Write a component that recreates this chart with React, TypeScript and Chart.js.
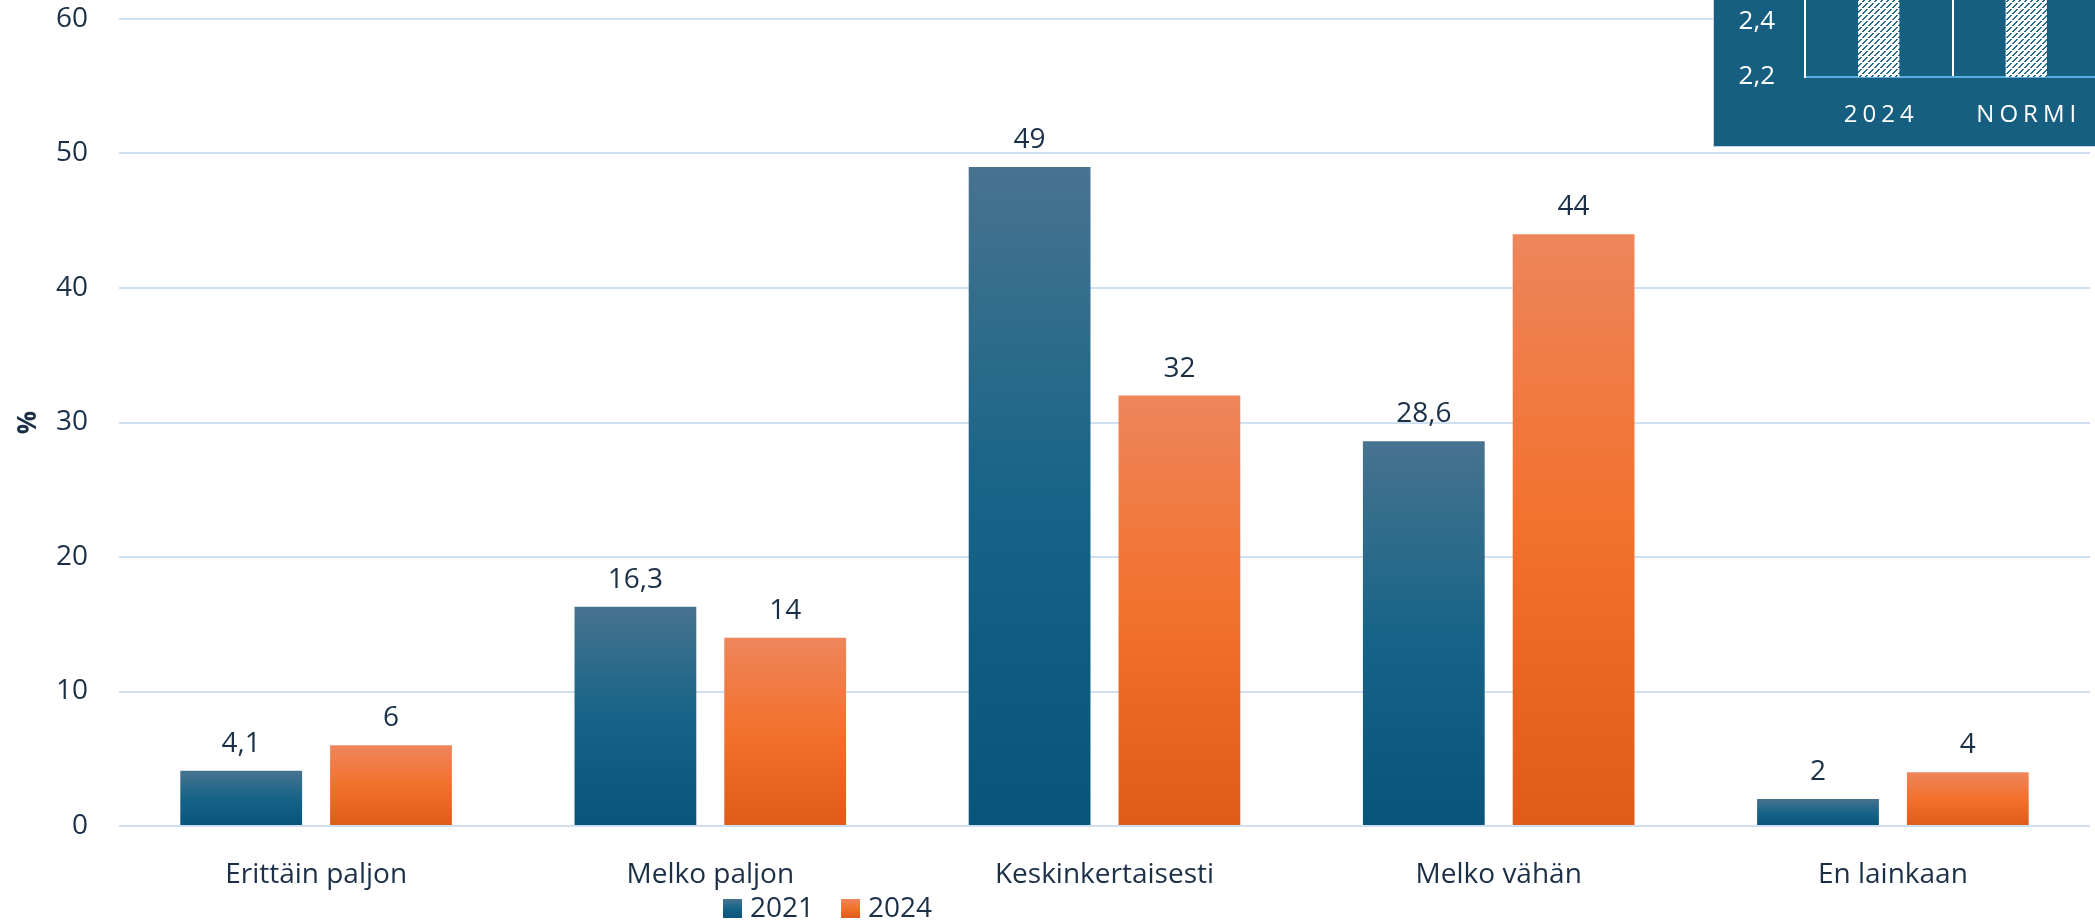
import React, { useEffect, useRef } from 'react';
import { Chart, registerables } from 'chart.js';

Chart.register(...registerables);

// ---- data ----
const categories = ['Erittäin paljon', 'Melko paljon', 'Keskinkertaisesti', 'Melko vähän', 'En lainkaan'];
const seriesLabels = ['2021', '2024'];
const values2021 = [4.1, 16.3, 49, 28.6, 2];
const values2024 = [6, 14, 32, 44, 4];
const yMin = 0;
const yMax = 60;
const yStep = 10;

const insetCategories = ['2024', 'NORMI'];
const insetValues = [2.6, 2.6];
const insetTicks = [2.2, 2.4];
const insetMin = 2.2;
const insetMax = 2.48;

// ---- styles ----
const FONT = "'Open Sans', 'Noto Sans', 'DejaVu Sans', sans-serif";
const TEXT = '#1b2f47';
const GRID = '#cfe0f2';
const STOPS: Array<Array<[number, string]>> = [
  [[0, '#47738f'], [0.5, '#176488'], [1, '#09547a']],
  [[0, '#ee855b'], [0.5, '#f2712c'], [1, '#df5b18']],
];
const INSET_BG = '#175f80';

const fmt = (v: number) => String(v).replace('.', ',');

function barGradient(stops: Array<[number, string]>) {
  return (ctx: any) => {
    const chart = ctx.chart;
    if (!chart.chartArea || ctx.type !== 'data' || !chart.scales.y) return stops[1][1];
    const y = chart.scales.y;
    const top = y.getPixelForValue(ctx.raw);
    const base = y.getPixelForValue(0);
    if (!isFinite(top) || !isFinite(base) || Math.abs(top - base) < 0.5) return stops[1][1];
    const g = chart.ctx.createLinearGradient(0, top, 0, base);
    stops.forEach(([o, c]) => g.addColorStop(o, c));
    return g;
  };
}

const valueLabels = {
  id: 'valueLabels',
  afterDatasetsDraw(chart: any) {
    const ctx = chart.ctx;
    ctx.save();
    ctx.font = `28px ${FONT}`;
    ctx.fillStyle = TEXT;
    ctx.textAlign = 'center';
    ctx.textBaseline = 'alphabetic';
    chart.data.datasets.forEach((ds: any, i: number) => {
      chart.getDatasetMeta(i).data.forEach((el: any, j: number) => {
        ctx.fillText(fmt(ds.data[j]), el.x, el.y - 19);
      });
    });
    ctx.restore();
  },
};

const bottomLegend = {
  id: 'bottomLegend',
  afterDraw(chart: any) {
    const ctx = chart.ctx;
    ctx.save();
    ctx.font = `28px ${FONT}`;
    ctx.textAlign = 'left';
    ctx.textBaseline = 'alphabetic';
    const box = 19;
    const boxTop = 899;
    const baseline = 917;
    let x = 723;
    chart.data.datasets.forEach((ds: any, i: number) => {
      const g = ctx.createLinearGradient(0, boxTop, 0, boxTop + box);
      STOPS[i].forEach(([o, c]) => g.addColorStop(o, c));
      ctx.fillStyle = g;
      ctx.fillRect(x, boxTop, box, box);
      ctx.fillStyle = TEXT;
      ctx.fillText(ds.label, x + 27, baseline);
      x += 27 + ctx.measureText(ds.label).width + 27;
    });
    ctx.restore();
  },
};

const insetXLabels = {
  id: 'insetXLabels',
  afterDraw(chart: any) {
    const ctx = chart.ctx;
    const xs = chart.scales.x;
    ctx.save();
    ctx.font = `24px ${FONT}`;
    ctx.fillStyle = '#ffffff';
    ctx.textAlign = 'center';
    ctx.textBaseline = 'alphabetic';
    (ctx as any).letterSpacing = '5px';
    chart.data.labels.forEach((lab: string, i: number) => {
      ctx.fillText(lab, xs.getPixelForValue(i) + 2.5, 152);
    });
    ctx.restore();
  },
};

function makePattern(): CanvasPattern | string {
  const n = 6;
  const c = document.createElement('canvas');
  c.width = n;
  c.height = n;
  const g = c.getContext('2d');
  if (!g) return '#ffffff';
  g.fillStyle = '#ffffff';
  g.fillRect(0, 0, n, n);
  g.fillStyle = '#296a8d';
  for (let y = 0; y < n; y++) {
    if (y === 2) continue;
    g.fillRect((n - 1 - y + n) % n, y, 1, 1);
    g.fillRect((n - y) % n, y, 1, 1);
  }
  return g.createPattern(c, 'repeat') || '#ffffff';
}

export default function App() {
  const mainRef = useRef<HTMLCanvasElement>(null);
  const insetRef = useRef<HTMLCanvasElement>(null);

  useEffect(() => {
    if (!mainRef.current || !insetRef.current) return;
    const seriesValues = [values2021, values2024];

    const main = new Chart(mainRef.current, {
      type: 'bar',
      data: {
        labels: categories,
        datasets: seriesLabels.map((label, i) => ({
          label,
          data: seriesValues[i],
          backgroundColor: barGradient(STOPS[i]),
          borderWidth: 0,
          categoryPercentage: 0.76,
          barPercentage: 0.813,
        })),
      },
      options: {
        responsive: false,
        animation: false,
        devicePixelRatio: 1,
        layout: { padding: { top: 19, right: 5, left: 0, bottom: 0 } },
        plugins: { legend: { display: false }, tooltip: { enabled: false } },
        scales: {
          x: {
            grid: { display: false },
            border: { display: false },
            ticks: { color: TEXT, font: { family: FONT, size: 28 }, padding: 24 },
            afterFit: (s: any) => { s.height = 96; },
          },
          y: {
            min: yMin,
            max: yMax,
            ticks: { stepSize: yStep, color: TEXT, font: { family: FONT, size: 28 }, padding: 31 },
            grid: { color: GRID, lineWidth: 2, drawTicks: false },
            border: { display: false },
            title: {
              display: true,
              text: '%',
              color: TEXT,
              font: { family: FONT, size: 26, weight: 'bold' },
              padding: { top: 13, bottom: 0 },
            },
            afterFit: (s: any) => { s.width = 119; s.paddingTop = 0; s.paddingBottom = 0; },
          },
        },
      } as any,
      plugins: [valueLabels, bottomLegend],
    });

    const inset = new Chart(insetRef.current, {
      type: 'bar',
      data: {
        labels: insetCategories,
        datasets: [{
          data: insetValues,
          backgroundColor: makePattern() as any,
          borderWidth: 0,
          categoryPercentage: 1,
          barPercentage: 0.28,
        }],
      },
      options: {
        responsive: false,
        animation: false,
        devicePixelRatio: 1,
        layout: { padding: { top: 30, right: 0, left: 0, bottom: 0 } },
        plugins: { legend: { display: false }, tooltip: { enabled: false } },
        scales: {
          x: {
            grid: { color: '#ffffff', lineWidth: 2, drawTicks: false, offset: true },
            border: { display: true, color: '#5aaee0', width: 2 },
            ticks: { display: false },
            afterFit: (s: any) => { s.height = 70; s.paddingLeft = 0; s.paddingRight = 0; },
          },
          y: {
            min: insetMin,
            max: insetMax,
            afterBuildTicks: (s: any) => { s.ticks = insetTicks.map((v) => ({ value: v })); },
            ticks: {
              color: '#ffffff',
              font: { family: FONT, size: 26 },
              padding: 30,
              callback: (v: any) => Number(v).toFixed(1).replace('.', ','),
            },
            grid: { display: false, drawTicks: false },
            border: { display: true, color: '#ffffff', width: 2 },
            afterFit: (s: any) => { s.width = 91; s.paddingTop = 0; s.paddingBottom = 0; },
          },
        },
      } as any,
      plugins: [insetXLabels],
    });

    return () => {
      main.destroy();
      inset.destroy();
    };
  }, []);

  return (
    <div style={{ position: 'fixed', left: 0, top: 0, width: 2095, height: 922, background: '#ffffff', overflow: 'hidden' }}>
      <canvas ref={mainRef} width={2095} height={922} style={{ position: 'absolute', left: 0, top: 0, width: 2095, height: 922 }} />
      <div
        style={{
          position: 'absolute',
          left: 1713,
          top: 0,
          width: 382,
          height: 147,
          overflow: 'hidden',
          background: INSET_BG,
          borderLeft: '1px solid #c5d6e8',
          borderBottom: '1px solid #c5d6e8',
          boxSizing: 'border-box',
        }}
      >
        <canvas ref={insetRef} width={386} height={177} style={{ position: 'absolute', left: 0, top: -30, width: 386, height: 177 }} />
      </div>
    </div>
  );
}
